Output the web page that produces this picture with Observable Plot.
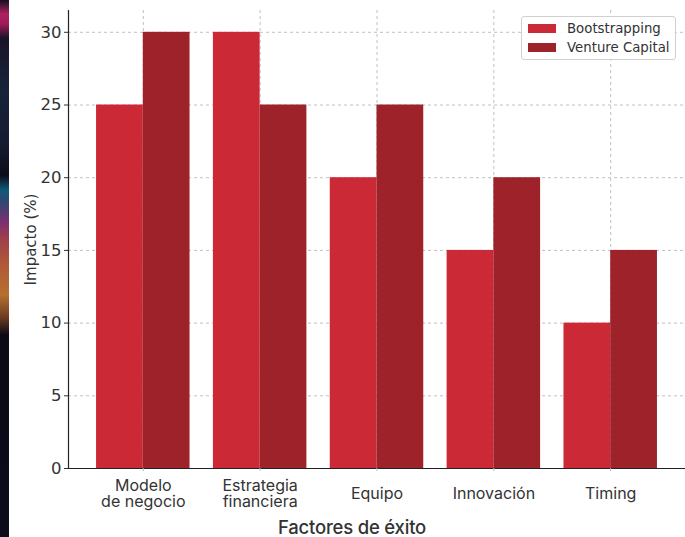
<!DOCTYPE html>
<html>
<head>
<meta charset="utf-8">
<script src="https://cdn.jsdelivr.net/npm/d3@7"></script>
<script src="https://cdn.jsdelivr.net/npm/@observablehq/plot@0.6"></script>
<style>
  html, body { margin: 0; padding: 0; background: #fff; }
  #wrap { position: relative; width: 685px; height: 537px; overflow: hidden; }
  #strip { position: absolute; left: 0; top: 0; width: 9px; height: 537px;
    background: linear-gradient(to bottom, #15101e 0px, #b02060 14px, #a01a58 24px, #1a1428 38px, #17233a 90px, #141a2e 150px, #0d0b18 175px, #0f5a78 190px, #2a4a70 200px, #7a3070 222px, #a0404a 240px, #b05a38 265px, #b57030 295px, #6a3a20 318px, #0c0a16 335px, #0b0b1a 537px); }
  #legend { position: absolute; left: 521px; top: 16px; width: 155px; height: 44px;
    border: 1px solid #d0d0d0; border-radius: 3px; background: rgba(255,255,255,0.9);
    font-family: "DejaVu Sans", sans-serif; font-size: 13.3px; color: #333; box-sizing: border-box; }
  .li { position: absolute; left: 6px; display: flex; align-items: center; }
  .sw { width: 28px; height: 9px; margin-right: 11px; }
  #xlabel { position: absolute; left: 352px; top: 516px; transform: translateX(-50%);
    font-family: Inter, sans-serif; font-weight: 500; font-size: 18.5px; letter-spacing: -0.2px; color: #333; white-space: nowrap; }
  #plot { position: absolute; left: 0; top: 0; }
</style>
</head>
<body>
<div id="wrap">
  <div id="plot"></div>
  <div id="strip"></div>
  <div id="legend"></div>
  <div id="xlabel">Factores de éxito</div>
</div>
<script>
const categories = ["Modelo\nde negocio", "Estrategia\nfinanciera", "Equipo", "Innovación", "Timing"];
const series = ["Bootstrapping", "Venture Capital"];
const bootstrapping = [25, 30, 20, 15, 10];
const ventureCapital = [30, 25, 25, 20, 15];
const yTicks = [0, 5, 10, 15, 20, 25, 30];
const colors = ["#cb2935", "#9d2229"];

const data = [];
categories.forEach((c, i) => {
  data.push({i, cat: c, s: series[0], v: bootstrapping[i], x1: i - 0.4, x2: i});
  data.push({i, cat: c, s: series[1], v: ventureCapital[i], x1: i, x2: i + 0.4});
});
// one row per label line, so each line is its own text element
const labelLines = [];
categories.forEach((c, i) => {
  const parts = c.split("\n");
  parts.forEach((t, k) => labelLines.push({i, t, off: 25 + (k - (parts.length - 1) / 2) * 16}));
});

const chart = Plot.plot({
  width: 685,
  height: 537,
  marginLeft: 68,
  marginRight: 0,
  marginTop: 10,
  marginBottom: 69,
  style: {fontFamily: "DejaVu Sans, sans-serif", fontSize: "14px", color: "#333", background: "transparent"},
  x: {type: "linear", domain: [-0.64, 4.64]},
  y: {domain: [0, 31.5]},
  color: {domain: series, range: colors},
  marks: [
    Plot.gridY(yTicks, {stroke: "#b0b0b0", strokeOpacity: 1, strokeDasharray: "3,3", strokeWidth: 0.8}),
    Plot.gridX(d3.range(categories.length), {stroke: "#b0b0b0", strokeOpacity: 1, strokeDasharray: "3,3", strokeWidth: 0.8}),
    Plot.rectY(data, {x1: "x1", x2: "x2", y: "v", fill: "s", insetLeft: 0, insetRight: 0}),
    Plot.ruleX([-0.64], {stroke: "#222", strokeWidth: 1.2}),
    Plot.ruleY([0], {stroke: "#222", strokeWidth: 1.2}),
    Plot.axisY(yTicks, {tickSize: 4, tickPadding: 3, fontSize: 16.5, label: "Impacto (%)", labelAnchor: "center", labelArrow: "none", labelOffset: 43}),
    Plot.axisX(d3.range(categories.length), {tickSize: 3, stroke: "#bbb", text: null, label: null}),
    ...[...new Set(labelLines.map(d => d.off))].map(off =>
      Plot.text(labelLines.filter(d => d.off === off), {x: "i", y: 0, text: "t", dy: off, lineAnchor: "middle", fontSize: 16, fontFamily: "Inter, sans-serif", fill: "#333"}))
  ]
});
document.getElementById("plot").appendChild(chart);
const yl = chart.querySelector('[aria-label="y-axis label"] text');
if (yl) yl.setAttribute("font-size", "15");

const leg = document.getElementById("legend");
series.forEach((s, k) => {
  const row = document.createElement("div");
  row.className = "li";
  row.style.top = (4 + k * 19) + "px";
  row.innerHTML = `<div class="sw" style="background:${colors[k]}"></div><span>${s}</span>`;
  leg.appendChild(row);
});
</script>
</body>
</html>
